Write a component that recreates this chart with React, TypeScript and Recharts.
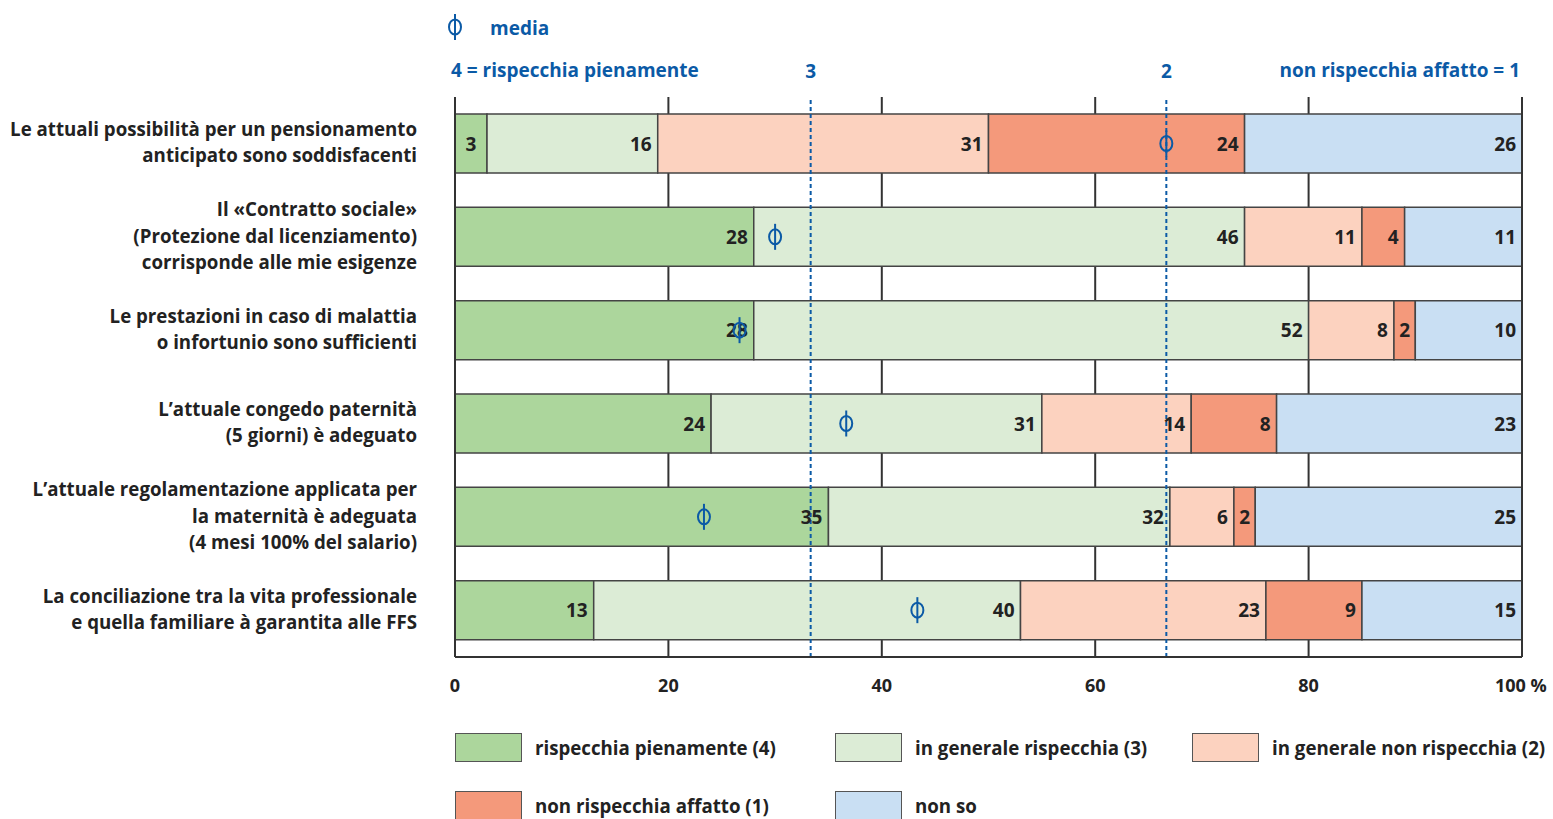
import React from 'react';
import { BarChart, Bar, XAxis, YAxis, CartesianGrid, ReferenceLine, LabelList } from 'recharts';

// Questions (one row each)
const categories = [
  'Le attuali possibilità per un pensionamento\nanticipato sono soddisfacenti',
  'Il «Contratto sociale»\n(Protezione dal licenziamento)\ncorrisponde alle mie esigenze',
  'Le prestazioni in caso di malattia\no infortunio sono sufficienti',
  'L’attuale congedo paternità\n(5 giorni) è adeguato',
  'L’attuale regolamentazione applicata per\nla maternità è adeguata\n(4 mesi 100% del salario)',
  'La conciliazione tra la vita professionale\ne quella familiare à garantita alle FFS',
];

// answer shares in %
const pienamente = [3, 28, 28, 24, 35, 13];
const inGenerale = [16, 46, 52, 31, 32, 40];
const nonInGenerale = [31, 11, 8, 14, 6, 23];
const nonAffatto = [24, 4, 2, 8, 2, 9];
const nonSo = [26, 11, 10, 23, 25, 15];

// average on the 4..1 scale
const media = [2.0, 3.1, 3.2, 2.9, 3.3, 2.7];

const xTicks = [0, 20, 40, 60, 80, 100];
const scaleMarks = [3, 2];

const BLUE = '#0b5aa6';
const INK = '#222';
const FONT = '"Open Sans", Lato, sans-serif';

const series = [
  { key: 'p4', name: 'rispecchia pienamente (4)', color: '#acd69c', values: pienamente },
  { key: 'p3', name: 'in generale rispecchia (3)', color: '#dcecd6', values: inGenerale },
  { key: 'p2', name: 'in generale non rispecchia (2)', color: '#fcd2bf', values: nonInGenerale },
  { key: 'p1', name: 'non rispecchia affatto (1)', color: '#f4997b', values: nonAffatto },
  { key: 'ns', name: 'non so', color: '#c9dff3', values: nonSo },
];

// position of a scale value (4 = left edge, 1 = right edge) on the 0..100 axis
const scalePos = (v: number) => ((4 - v) / 3) * 100;

const data = categories.map((name, i) => {
  const row: any = { name };
  series.forEach((s) => (row[s.key] = s.values[i]));
  return row;
});

const totals = categories.map((_, i) => series.reduce((a, s) => a + s.values[i], 0));

const CategoryTick = (props: any) => {
  const { y, payload } = props;
  const lines = String(payload.value).split('\n');
  const lh = 26.5;
  const y0 = y - 2 - ((lines.length - 1) * lh) / 2;
  return (
    <text x={417} textAnchor="end" fontSize={18.7} fontWeight={700} fill={INK} fontFamily={FONT}>
      {lines.map((l, i) => (
        <tspan key={i} x={417} y={y0 + i * lh} dominantBaseline="central">
          {l}
        </tspan>
      ))}
    </text>
  );
};

const PercentTick = (props: any) => {
  const { x, y, payload } = props;
  const last = payload.value === 100;
  return (
    <text
      x={last ? x - 27 : x}
      y={y + 20}
      textAnchor={last ? 'start' : 'middle'}
      dominantBaseline="central"
      fontSize={18}
      fontWeight={700}
      fill={INK}
      fontFamily={FONT}
    >
      {last ? '100 %' : payload.value}
    </text>
  );
};

const valueLabel = (props: any) => {
  const vb = props.viewBox ?? props;
  const { x, y, width, height } = vb;
  const small = width < 35;
  return (
    <text
      x={small ? x + width / 2 : x + width - 6}
      y={y + height / 2}
      textAnchor={small ? 'middle' : 'end'}
      dominantBaseline="central"
      fontSize={19}
      fontWeight={700}
      fill={INK}
      fontFamily={FONT}
    >
      {props.value}
    </text>
  );
};

const MeanGlyph = ({ cx, cy }: { cx: number; cy: number }) => (
  <g stroke={BLUE} strokeWidth={2} fill="none">
    <ellipse cx={cx} cy={cy} rx={6} ry={7.5} />
    <line x1={cx} y1={cy - 13} x2={cx} y2={cy + 13} />
  </g>
);

// drawn on the last segment; rebuilds the 0 position from the segment's own scale
const meanLabel = (props: any) => {
  const vb = props.viewBox ?? props;
  const { x, y, width, height } = vb;
  const i = categories.indexOf(props.value);
  if (i < 0) return null;
  const k = width / nonSo[i];
  const start = x + width - totals[i] * k;
  const cx = start + scalePos(media[i]) * k;
  return <MeanGlyph cx={cx} cy={y + height / 2} />;
};

const scaleLabel = (text: string) => (props: any) => {
  const { x } = props.viewBox;
  return (
    <text x={x} y={71} textAnchor="middle" dominantBaseline="central" fontSize={19} fontWeight={700} fill={BLUE} fontFamily={FONT}>
      {text}
    </text>
  );
};

const headText: React.CSSProperties = {
  position: 'absolute',
  color: BLUE,
  fontSize: 19,
  fontWeight: 700,
  fontFamily: FONT,
  lineHeight: '24px',
  whiteSpace: 'nowrap',
};

const legendText: React.CSSProperties = {
  position: 'absolute',
  color: INK,
  fontSize: 18.7,
  fontWeight: 700,
  fontFamily: FONT,
  lineHeight: '28px',
  whiteSpace: 'nowrap',
};

const legendPos = [
  { left: 455, top: 733 },
  { left: 835, top: 733 },
  { left: 1192, top: 733 },
  { left: 455, top: 791 },
  { left: 835, top: 791 },
];

export default function App() {
  return (
    <div style={{ position: 'absolute', left: 0, top: 0, width: 1553, height: 819, background: '#fff', overflow: 'hidden' }}>
      <svg style={{ position: 'absolute', left: 0, top: 0 }} width={480} height={60}>
        <MeanGlyph cx={455} cy={27} />
      </svg>
      <div style={{ ...headText, left: 490, top: 16 }}>media</div>
      <div style={{ ...headText, left: 451, top: 58 }}>4 = rispecchia pienamente</div>
      <div style={{ ...headText, right: 1553 - 1520, top: 58 }}>non rispecchia affatto = 1</div>

      <div style={{ position: 'absolute', left: 0, top: 0 }}>
        <BarChart
          width={1553}
          height={720}
          data={data}
          layout="vertical"
          margin={{ top: 97, right: 31, left: 0, bottom: 33 }}
          barSize={59}
        >
          <CartesianGrid horizontal={false} stroke="#333" strokeWidth={2} />
          <XAxis
            type="number"
            domain={[0, 100]}
            ticks={xTicks}
            interval={0}
            axisLine={{ stroke: '#333', strokeWidth: 2 }}
            tickLine={false}
            tick={<PercentTick />}
            height={30}
          />
          <YAxis type="category" dataKey="name" width={455} axisLine={false} tickLine={false} tick={<CategoryTick />} />
          {series.map((s, si) => (
            <Bar key={s.key} dataKey={s.key} stackId="a" fill={s.color} stroke="#444" strokeWidth={1.5} isAnimationActive={false}>
              <LabelList dataKey={s.key} content={valueLabel} />
              {si === series.length - 1 && <LabelList dataKey="name" content={meanLabel} />}
            </Bar>
          ))}
          <ReferenceLine x={0} stroke="#333" strokeWidth={2} />
          <ReferenceLine x={100} stroke="#333" strokeWidth={2} />
          {scaleMarks.map((m) => (
            <ReferenceLine
              key={m}
              x={scalePos(m)}
              stroke={BLUE}
              strokeWidth={2}
              strokeDasharray="4 3"
              label={scaleLabel(String(m))}
            />
          ))}
        </BarChart>
      </div>

      {series.map((s, i) => (
        <React.Fragment key={s.key}>
          <div
            style={{
              position: 'absolute',
              left: legendPos[i].left,
              top: legendPos[i].top,
              width: 65,
              height: 27,
              background: s.color,
              border: '1px solid #555',
            }}
          />
          <div style={{ ...legendText, left: legendPos[i].left + 80, top: legendPos[i].top + 1 }}>{s.name}</div>
        </React.Fragment>
      ))}
    </div>
  );
}
